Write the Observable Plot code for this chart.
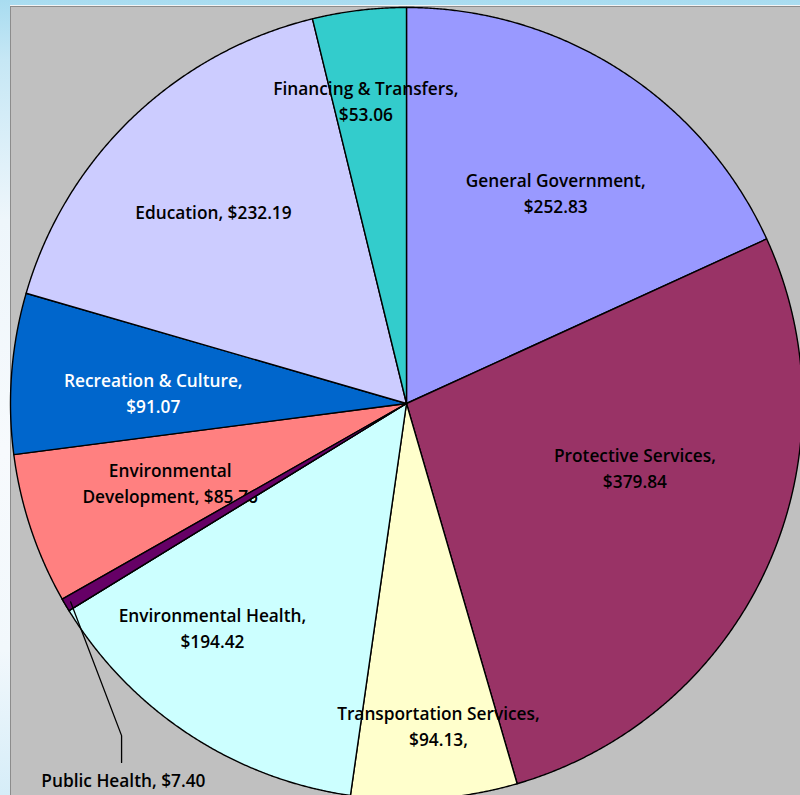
<!DOCTYPE html>
<html><head><meta charset="utf-8">
<script src="https://cdn.jsdelivr.net/npm/d3@7"></script>
<script src="https://cdn.jsdelivr.net/npm/@observablehq/plot@0.6"></script>
<style>
html,body{margin:0;padding:0;width:800px;height:795px;overflow:hidden;}
body{position:relative;background:linear-gradient(to bottom,#a8dcf0 0px,#c6e7f5 60px,#eef6fb 220px,#f7fafd 450px,#f2f8fc 650px,#d6edf8 795px);}
#panel{position:absolute;left:10px;top:5px;width:790px;height:790px;background:#c0c0c0;border-top:1px solid #f4f4f4;box-shadow:inset 1px 1px 0 #8c8c8c;}
#chart{position:absolute;left:0;top:0;}
#chart svg{background:transparent;}
</style></head><body><div id="panel"></div><div id="chart"></div>
<script>
// ---- data ----
const categories = ["General Government","Protective Services","Transportation Services","Environmental Health","Public Health","Environmental Development","Recreation & Culture","Education","Financing & Transfers"];
const values = [252.83, 379.84, 94.13, 194.42, 7.40, 85.76, 91.07, 232.19, 53.06];
const colors = ["#9999FF","#993366","#FFFFCC","#CCFFFF","#660066","#FF8080","#0066CC","#CCCCFF","#33CCCC"];
const labels = ["General Government,\n$252.83","Protective Services,\n$379.84","Transportation Services,\n$94.13,","Environmental Health,\n$194.42","Public Health, $7.40","Environmental\nDevelopment, $85.76","Recreation & Culture,\n$91.07","Education, $232.19","Financing & Transfers,\n$53.06"];

// ---- label layout (radius as fraction of pie radius, angle tweak in degrees) ----
const labelLayout = {
  "General Government": {r:0.65, da:2.7, color:"#000"},
  "Protective Services": {r:0.60, da:-8.6, color:"#000"},
  "Transportation Services": {r:0.82, da:-1.6, color:"#000"},
  "Environmental Health": {r:0.75, da:7.5, color:"#000"},
  "Public Health": {r:1.19, da:-22.5, color:"#000", leader:{r:1.105, da:-18.8}},
  "Environmental Development": {r:0.63, da:-0.2, color:"#000"},
  "Recreation & Culture": {r:0.64, da:-2.1, color:"#fff"},
  "Education": {r:0.686, da:-1.5, color:"#000"},
  "Financing & Transfers": {r:0.77, da:-0.8, color:"#000"}
};

const data = categories.map((name,i)=>({name, value:values[i], color:colors[i], label:labels[i]}));
const arcs = d3.pie().sort(null).value(d=>d.value)(data);

const polar = (a, r) => ({x: Math.sin(a)*r, y: Math.cos(a)*r});
const rad = d => d*Math.PI/180;

const poly = [];
arcs.forEach(a=>{
  const n = Math.max(2, Math.ceil((a.endAngle-a.startAngle)/rad(0.25)));
  poly.push({name:a.data.name, color:a.data.color, x:0, y:0});
  for(let k=0;k<=n;k++){
    const ang = a.startAngle + (a.endAngle-a.startAngle)*k/n;
    poly.push({name:a.data.name, color:a.data.color, ...polar(ang,1)});
  }
});

const labelPts = arcs.map(a=>{
  const L = labelLayout[a.data.name];
  const mid = (a.startAngle+a.endAngle)/2 + rad(L.da);
  return {...polar(mid, L.r), label:a.data.label, tc:L.color, name:a.data.name};
});

const leaders = [];
arcs.forEach(a=>{
  const L = labelLayout[a.data.name];
  if(!L.leader) return;
  const mid = (a.startAngle+a.endAngle)/2;
  const p0 = polar(mid, 0.985);
  const p1 = polar(mid + rad(L.leader.da), L.leader.r);
  const lab = polar(mid + rad(L.da), L.r);
  leaders.push({...p0, name:a.data.name},{...p1, name:a.data.name},{x:p1.x, y:lab.y + 0.045, name:a.data.name});
});

const phName = "Public Health";
const R = 396, cx = 406, cy = 403;

const chart = Plot.plot({
  width: 800, height: 795,
  margin: 0,
  style: {background:"transparent", overflow:"visible"},
  x: {domain:[-1,1], range:[cx-R, cx+R], axis:null},
  y: {domain:[-1,1], range:[cy+R, cy-R], axis:null},
  marks: [
    Plot.line(poly, {x:"x", y:"y", z:"name", fill:"color", stroke:"#000", strokeWidth:1.4, curve:"linear-closed", strokeLinejoin:"round"}),
    Plot.text(labelPts, {x:"x", y:"y", dy:-2, text:"label", fill:"tc", fontFamily:"'Open Sans', Lato, sans-serif", fontWeight:600, fontSize:17.3, lineHeight:1.5, lineAnchor:"middle", textAnchor:"middle"}),
    Plot.line(poly.filter(d=>d.name===phName), {x:"x", y:"y", fill:"color", stroke:"#000", strokeWidth:1.4, curve:"linear-closed"}),
    Plot.line(leaders, {x:"x", y:"y", z:"name", stroke:"#000", strokeWidth:1.3})
  ]
});
document.getElementById("chart").appendChild(chart);
</script>
</body></html>
